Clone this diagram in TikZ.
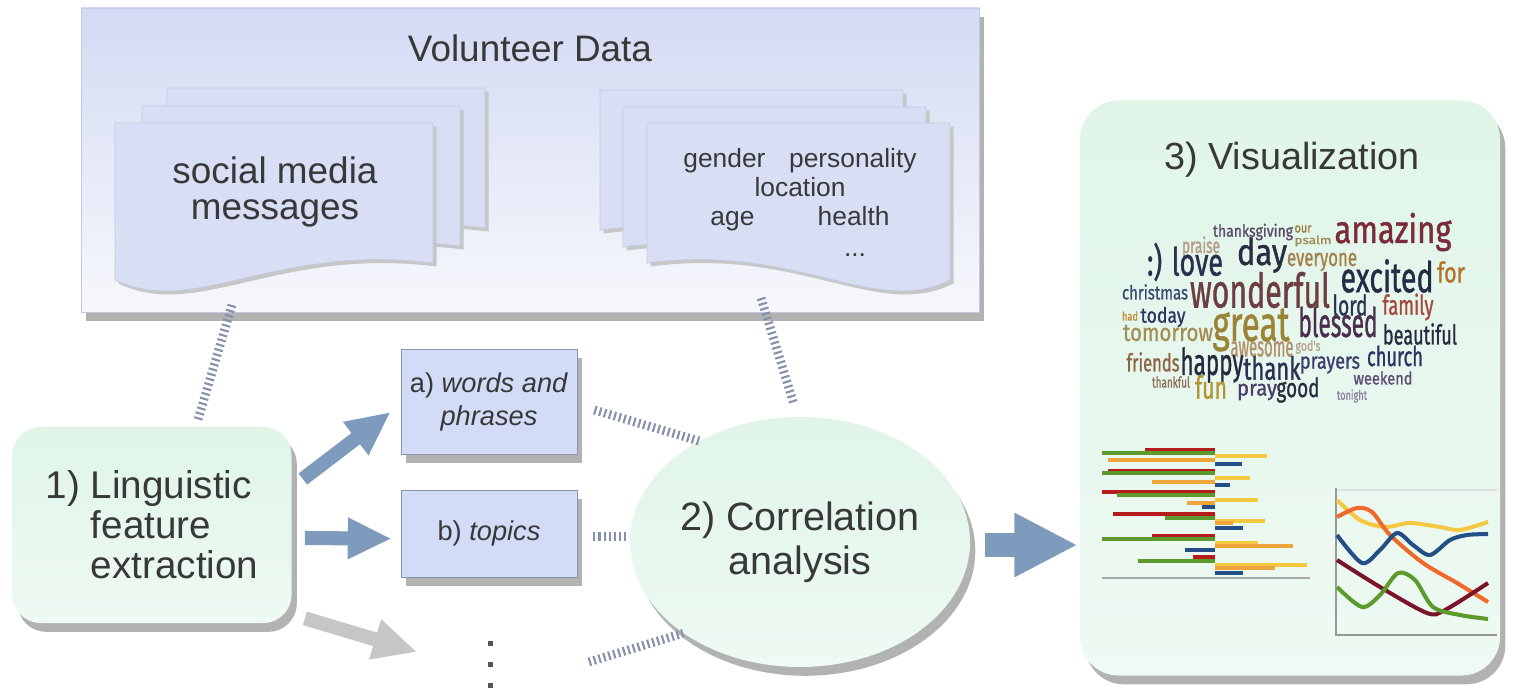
\documentclass[tikz,border=0pt]{standalone}
\usepackage{fontspec}
\setmainfont{Liberation Sans}
\newfontfamily\cloudfont{Fira Sans}[FakeBold=1.2]
\usetikzlibrary{positioning,shapes.geometric,shadows,arrows.meta,calc}

\definecolor{textgray}{HTML}{383838}
\definecolor{volTop}{HTML}{D3DAF3}
\definecolor{volBot}{HTML}{F7F8FC}
\definecolor{pagefill}{HTML}{D8DFF5}
\definecolor{pageedge}{HTML}{C3C9DE}
\definecolor{boxfill}{HTML}{D3DCF6}
\definecolor{boxedge}{HTML}{8891B0}
\definecolor{greenTop}{HTML}{E0F5E8}
\definecolor{greenBot}{HTML}{EEFAF3}
\definecolor{arrowblue}{HTML}{7E9BBD}
\definecolor{arrowgray}{HTML}{C6C6C6}
\definecolor{coilgray}{HTML}{8592AA}
\definecolor{barred}{HTML}{B71C1C}
\definecolor{bargreen}{HTML}{5C9A2E}
\definecolor{baryellow}{HTML}{F5C842}
\definecolor{barorange}{HTML}{EEA63A}
\definecolor{barblue}{HTML}{234E86}
\definecolor{linemaroon}{HTML}{7A1428}
\definecolor{lineorange}{HTML}{EF6A2A}

\newcommand{\pxu}{0.02cm}
% page with wavy bottom, stacks on the left and on the right
\newcommand{\leftpage}[2]{\filldraw[page] (#1,#2) -- ++(318,0) -- ++(0,140) .. controls +(-159,-20) and +(80,38) .. ++(-318,17) -- cycle;}
\newcommand{\rightpage}[2]{\filldraw[page] (#1,#2) -- ++(303,0) -- ++(0,157) .. controls +(-76,38) and +(151,-20) .. ++(-303,-17) -- cycle;}

\begin{document}
\begin{tikzpicture}[x=0.02cm,y=-0.02cm,
  txt/.style={text=textgray, inner sep=0, align=center},
  shade gray/.style={drop shadow={shadow xshift=3pt, shadow yshift=-5pt, fill=black!30, opacity=1}},
  volbox/.style={rectangle, draw=pageedge, top color=volTop, bottom color=volBot, shade gray, minimum width=898*\pxu, minimum height=304*\pxu},
  page/.style={fill=pagefill, draw=pageedge, thin, drop shadow={shadow xshift=2pt, shadow yshift=-2pt, fill=black!22, opacity=1}},
  greenbox/.style={rectangle, rounded corners=16pt, top color=greenTop, bottom color=greenBot, shade gray, txt},
  featbox/.style={rectangle, fill=boxfill, draw=boxedge, shade gray, txt, font=\fontsize{15.5}{19}\selectfont},
  bigarrow/.style={draw=arrowblue, line width=8pt, -{Triangle[width=22pt,length=25pt]}},
  coilline/.style={draw=coilgray, line width=5pt, dash pattern=on 1.2pt off 1.7pt}]

\useasboundingbox (0,0) rectangle (1514,692);

% volunteer data
\node[volbox] (vol) at (530,160) {};
\node[txt, font=\fontsize{21}{21}\selectfont] (voltitle) at (530,48) {Volunteer Data};

\leftpage{167}{88}
\leftpage{142}{106}
\leftpage{115}{123}
\rightpage{600}{90}
\rightpage{623}{107}
\rightpage{647}{123}

\node[txt, font=\fontsize{21}{21}\selectfont] (smm) at (275,192) {social media\\messages};
\node[txt, font=\fontsize{15}{16.5}\selectfont] (attr) at (800,190) {gender\hspace{0.9em}personality\\location\\age\hspace{2.4em}health};
\node[txt, font=\fontsize{15}{15}\selectfont] (etc) at (855,255) {...};
\coordinate (smmbot) at (232,305);
\coordinate (attrbot) at (761,298);

% steps
\node[greenbox, minimum width=279*\pxu, minimum height=196*\pxu, align=left, font=\fontsize{22}{22.7}\selectfont] (n1) at (152,525) {1) Linguistic\\\hphantom{1) }feature\\\hphantom{1) }extraction};
\node[featbox, minimum width=176*\pxu, minimum height=105*\pxu] (a) at (489,402) {a) \textit{words and}\\\textit{phrases}};
\node[featbox, minimum width=176*\pxu, minimum height=87*\pxu, below=35*\pxu of a] (b) {b) \textit{topics}};
\node[inner sep=0, minimum width=5*\pxu, minimum height=47*\pxu] (more) at (490,664) {};
\foreach \dy in {-21,0,21}
  \fill[textgray!85] ($(more)+(-2.5,\dy-2.5)$) rectangle +(5,5);
\node[ellipse, top color=greenTop, bottom color=greenBot, shade gray, txt, minimum width=340*\pxu, minimum height=250*\pxu, font=\fontsize{22.5}{25}\selectfont] (corr) at (800,542) {2) Correlation\\analysis};

% visualization panel
\node[greenbox, rounded corners=22pt, minimum width=420*\pxu, minimum height=575*\pxu] (vis) at (1290,388) {};
\node[txt, font=\fontsize{21.5}{21.5}\selectfont] (vistitle) at (1292,160) {3) Visualization};

\foreach \wx/\wy/\wsz/\wwd/\wcol/\wtxt [count=\i] in {
  1253/232/9.5/80/5B4A66/thanksgiving, 1303/229/7.5/17/9A7A3A/our, 1313/241/6.5/37/A08850/psalm,
  1393/232/22/117/7B2C3A/amazing, 1201/247/12/38/B39A80/praise, 1185/262/22/76/2B2F4F/:) love,
  1262/255/21/50/2A2B40/day, 1322/262/14/70/A3804A/everyone, 1387/276/24/93/262B45/excited,
  1451/272/16/28/B5702A/for, 1155/292/11/66/3C4A72/christmas, 1260/290/27/140/6E3D42/wonderful,
  1350/305/16/35/2D3352/lord, 1408/307/15.5/51/A5483A/family, 1130/316/7/16/C08A3A/had,
  1163/317/12/45/2E3763/today, 1168/333/14/90/A38E55/tomorrow, 1251/330/28/77/9C8436/great,
  1338/322/23/79/4A2C4E/blessed, 1420/334/15.5/74/262A40/beautiful, 1262/349/16/63/B39068/awesome,
  1308/347/8/25/B6A088/god's, 1395/356/15.5/56/2D3465/church, 1153/362/14/53/8F6445/friends,
  1212/365/21/63/26283F/happy, 1272/368/18/57/2B3152/thank, 1330/365/13/60/3D3D6E/prayers,
  1383/378/10/59/5D4D73/weekend, 1171/382/8.5/38/8C6E55/thankful, 1211/387/18/32/B39535/fun,
  1257/392/12.5/40/4C3D6E/pray, 1298/390/15/43/2A2B40/good, 1352/396/7.5/30/8D7E9E/tonight}
  \node[inner sep=0, font=\cloudfont\fontsize{\wsz}{\wsz}\selectfont] (w\i) at (\wx,\wy) {\color[HTML]{\wcol}\resizebox{\dimexpr\pxu*\wwd\relax}{\height}{\wtxt}};

% bar chart
\foreach \by/\bx/\bc in {450/1145/barred, 453/1102/bargreen, 456/1267/baryellow, 460/1108/barorange, 464/1242/barblue,
  471/1108/barred, 473/1102/bargreen, 478/1250/baryellow, 482/1152/barorange, 485/1230/barblue,
  492/1102/barred, 495/1117/bargreen, 500/1258/baryellow, 503/1187/barorange, 507/1202/barblue,
  514/1113/barred, 518/1165/bargreen, 521/1265/baryellow, 523/1233/barorange, 528/1243/barblue,
  536/1152/barred, 539/1102/bargreen, 543/1258/baryellow, 546/1293/barorange, 550/1185/barblue,
  557/1193/barred, 561/1138/bargreen, 565/1307/baryellow, 568/1275/barorange, 573/1243/barblue}
  \draw[\bc, line width=2.2pt] (1215,\by) -- (\bx,\by);
\draw[black!35, line width=0.8pt] (1102,578) -- (1310,578);

% line chart
\draw[black!12, line width=0.6pt] (1336,490) -- (1497,490);
\draw[black!40, line width=0.8pt] (1336,488) -- (1336,635) -- (1497,635);
\draw[baryellow, line width=2.3pt] plot[smooth] coordinates {(1337,500) (1360,520) (1385,527) (1410,523) (1440,527) (1460,530) (1488,522)};
\draw[lineorange, line width=2.3pt] plot[smooth] coordinates {(1337,517) (1357,508) (1372,512) (1390,535) (1423,563) (1457,583) (1488,602)};
\draw[barblue, line width=2.3pt] plot[smooth] coordinates {(1337,535) (1362,563) (1380,550) (1397,533) (1413,545) (1430,555) (1450,540) (1467,535) (1488,534)};
\draw[linemaroon, line width=2.3pt] plot[smooth] coordinates {(1337,560) (1380,587) (1427,613) (1445,610) (1488,583)};
\draw[bargreen, line width=2.3pt] plot[smooth] coordinates {(1337,587) (1362,607) (1380,595) (1398,573) (1415,580) (1433,607) (1460,615) (1488,619)};

% arrows
\draw[bigarrow] ($(n1.east)+(11,-46)$) -- ($(a.west)+(-10,10)$);
\draw[bigarrow] ($(n1.east)+(13,13)$) -- ($(b.west)+(-9,5)$);
\draw[bigarrow, draw=arrowgray] ($(n1.south east)+(13,-5)$) -- ($(more.west)+(-70,-12)$);
\draw[draw=arrowblue, line width=14pt, -{Triangle[width=34pt,length=36pt]}] ($(corr.east)+(15,3)$) -- ($(corr.east -| vis.west)+(-2,3)$);

% links
\draw[coilline] (smmbot) -- ($(n1.north)+(46,-7)$);
\draw[coilline] (attrbot) -- ($(corr.north)+(-6,-12)$);
\draw[coilline] ($(a.east)+(17,8)$) -- (corr.135);
\draw[coilline] ($(b.east)+(16,3)$) -- ($(b.east -| corr.west)+(-4,3)$);
\draw[coilline] ($(more.east)+(96,-2)$) -- (corr.218);

\end{tikzpicture}
\end{document}
